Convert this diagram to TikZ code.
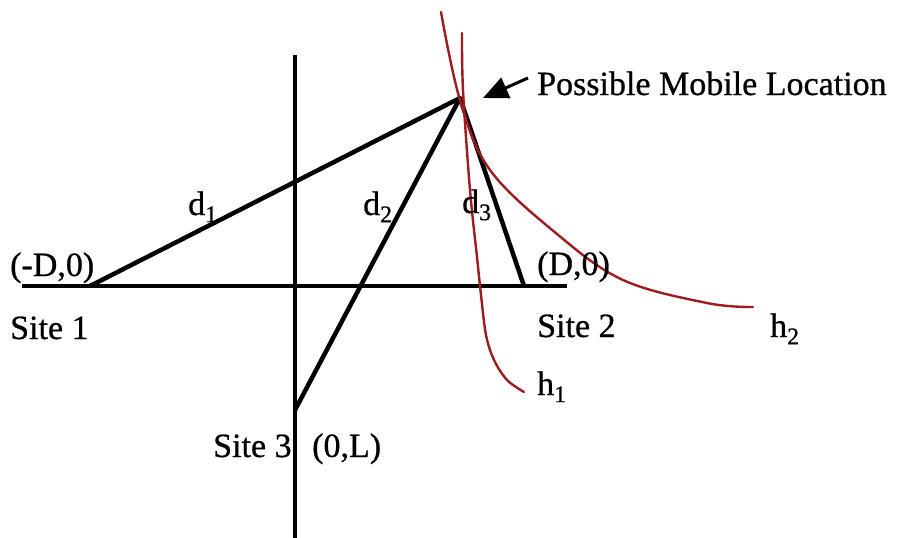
\documentclass[tikz,border=0pt]{standalone}
\usepackage{fontspec}
\setmainfont{Liberation Serif}[FakeBold=0.7]
\usetikzlibrary{arrows.meta}
\definecolor{hyp}{RGB}{158,28,32}
\begin{document}
\begin{tikzpicture}[x=1pt,y=-1pt,
  axisline/.style={line width=4.5pt,black},
  rangeline/.style={line width=4.5pt,black},
  hypline/.style={line width=2.4pt,hyp,line cap=round},
  lbl/.style={anchor=base west,inner sep=0pt,font=\fontsize{34}{38}\selectfont}]
\useasboundingbox (0,0) rectangle (903,538);
\fill[white] (0,0) rectangle (903,538);
% key points
\coordinate (s1) at (90,286);
\coordinate (s2) at (524,286);
\coordinate (s3) at (295,410);
\coordinate (m) at (460,98);
\coordinate (xl) at (22,286);
\coordinate (xr) at (567,286);
\coordinate (yt) at (295,55);
\coordinate (yb) at (295,538);
% axes
\draw[axisline] (xl) -- (xr);
\draw[axisline] (yt) -- (yb);
% ranges
\draw[rangeline] (s1) -- (m);
\draw[rangeline,line join=round] (s3) -- (m) -- (s2);
% hyperbolas
\draw[hypline] plot[smooth,tension=0.55] coordinates {(462,33) (463,90) (470,190) (477,257) (481,295) (486,335) (494,360) (507,380) (524,392)};
\draw[hypline] plot[smooth,tension=0.6] coordinates {(441,12) (460,100) (490,170) (557,234) (623,280) (707,303) (753,307)};
% arrow
\coordinate (atail) at (528,78);
\coordinate (ahead) at (483,98);
\draw[line width=3pt,-{Triangle[length=25pt,width=22pt]}] (atail) -- (ahead);
% labels
\node[lbl] (lmob) at (537,95) {Possible Mobile Location};
\node[lbl] (lsite1) at (10,339) {Site 1};
\node[lbl] (lsite2) at (537,337) {Site 2};
\node[lbl] (lsite3) at (213,457) {Site 3};
\node[lbl] (lmd) at (10,276) {(-D,0)};
\node[lbl] (lpd) at (537,275) {(D,0)};
\node[lbl] (l0l) at (312,457) {(0,L)};
\node[lbl] (ld1) at (188,215) {d\textsubscript{1}};
\node[lbl] (ld2) at (363,215) {d\textsubscript{2}};
\node[lbl] (ld3) at (462,213) {d\textsubscript{3}};
\node[lbl] (lh1) at (537,395) {h\textsubscript{1}};
\node[lbl] (lh2) at (770,337) {h\textsubscript{2}};
\end{tikzpicture}
\end{document}
